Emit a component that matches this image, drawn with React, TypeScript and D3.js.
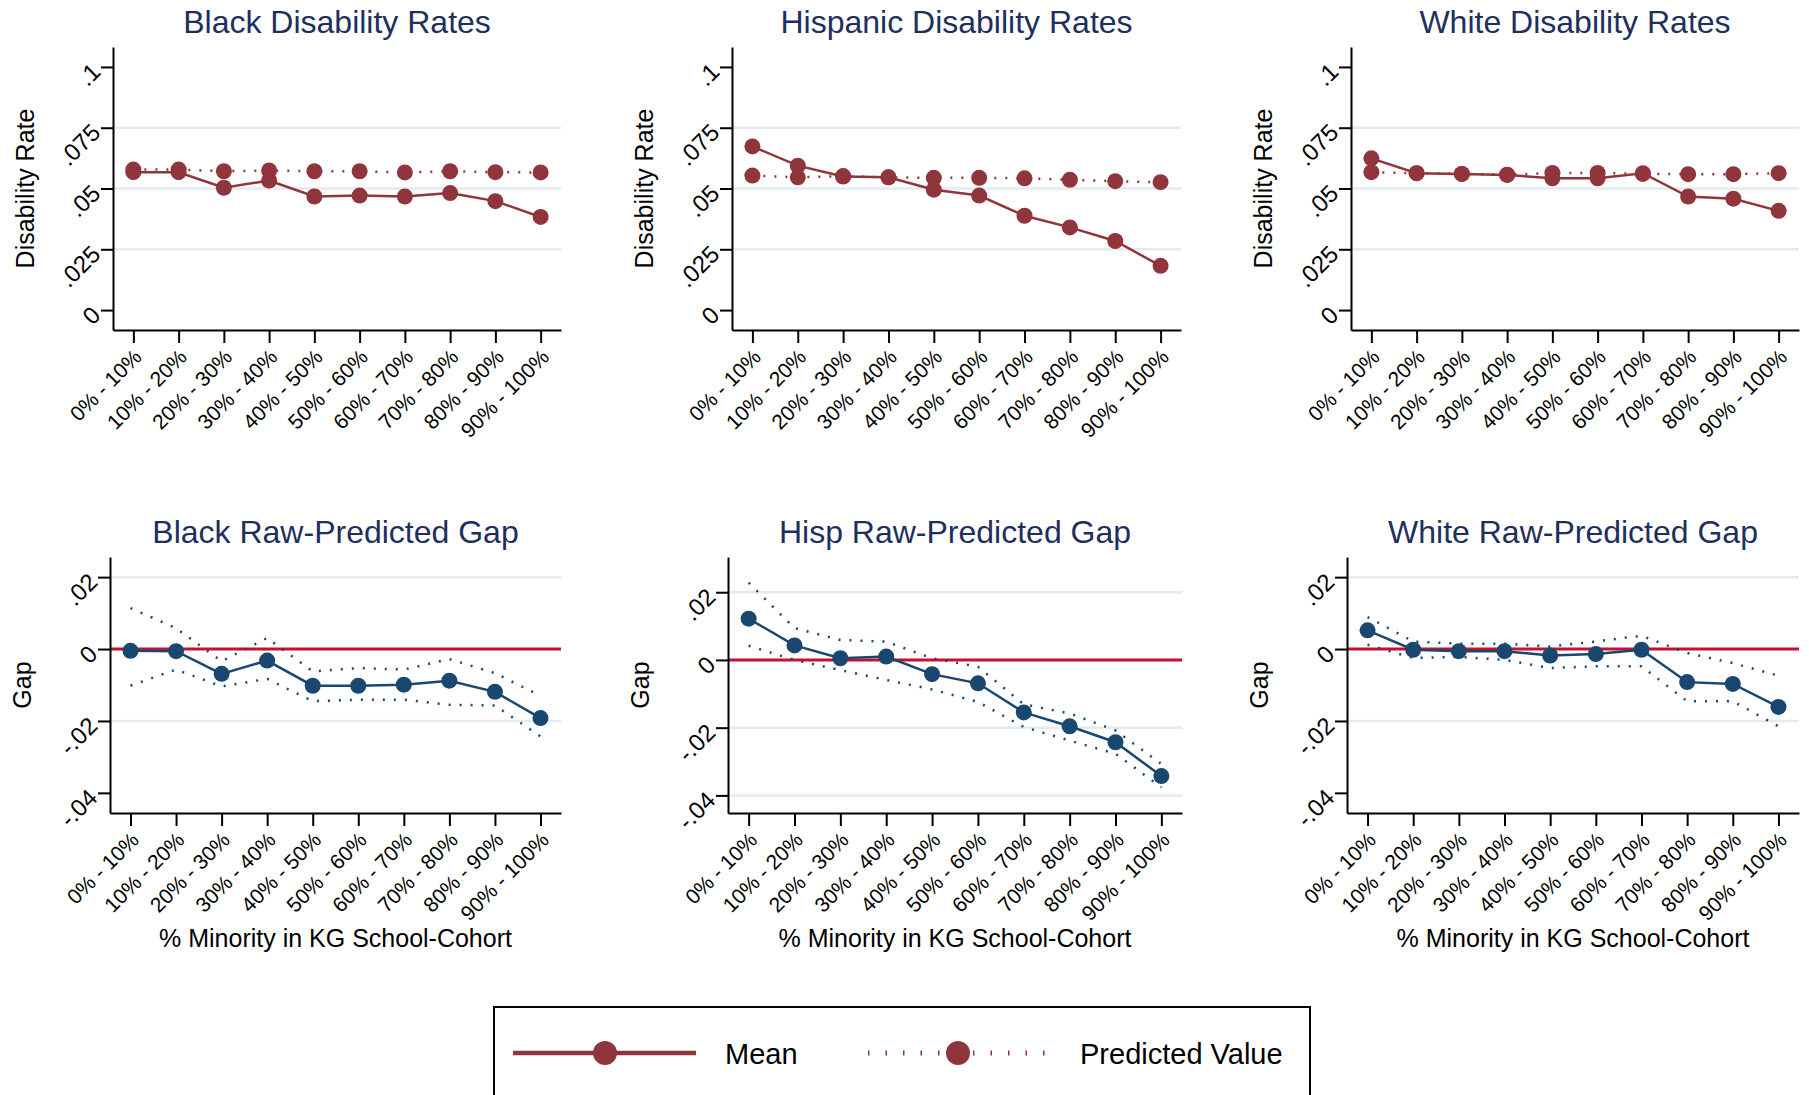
import * as React from 'react'
import * as d3 from 'd3'

const categories = ['0% - 10%', '10% - 20%', '20% - 30%', '30% - 40%', '40% - 50%',
    '50% - 60%', '60% - 70%', '70% - 80%', '80% - 90%', '90% - 100%']

// top row: disability rates
const blackMean = [0.0567, 0.0567, 0.0503, 0.0533, 0.0467, 0.0471, 0.0467, 0.0481, 0.0448, 0.0383]
const blackPredicted = [0.0578, 0.0578, 0.0571, 0.0574, 0.0571, 0.0571, 0.0566, 0.0571, 0.0567, 0.0566]
const hispMean = [0.0673, 0.0594, 0.0549, 0.0546, 0.0495, 0.0471, 0.0388, 0.0340, 0.0284, 0.0182]
const hispPredicted = [0.0553, 0.0546, 0.0551, 0.0546, 0.0544, 0.0544, 0.0542, 0.0536, 0.0530, 0.0526]
const whiteMean = [0.0624, 0.0563, 0.0560, 0.0556, 0.0542, 0.0542, 0.0563, 0.0467, 0.0458, 0.0408]
const whitePredicted = [0.0567, 0.0563, 0.0560, 0.0557, 0.0564, 0.0564, 0.0560, 0.0559, 0.0559, 0.0563]

// bottom row: raw - predicted gap with upper / lower bounds
const blackGap = [-0.0005, -0.0006, -0.0069, -0.0032, -0.0102, -0.0102, -0.0099, -0.0088, -0.0119, -0.0192]
const blackGapHi = [0.0114, 0.0058, -0.0034, 0.0031, -0.0062, -0.0053, -0.0057, -0.0028, -0.0067, -0.0130]
const blackGapLo = [-0.0102, -0.0057, -0.0104, -0.0083, -0.0145, -0.0141, -0.0141, -0.0155, -0.0157, -0.0243]
const hispGap = [0.0122, 0.0043, 0.0005, 0.0010, -0.0042, -0.0069, -0.0155, -0.0196, -0.0243, -0.0343]
const hispGapHi = [0.0228, 0.0094, 0.0059, 0.0054, 0.0005, -0.0020, -0.0131, -0.0158, -0.0208, -0.0307]
const hispGapLo = [0.0042, 0.0000, -0.0030, -0.0059, -0.0087, -0.0124, -0.0198, -0.0238, -0.0277, -0.0376]
const whiteGap = [0.0052, -0.0002, -0.0006, -0.0006, -0.0018, -0.0014, -0.0002, -0.0092, -0.0097, -0.0161]
const whiteGapHi = [0.0089, 0.0021, 0.0015, 0.0015, 0.0007, 0.0021, 0.0037, -0.0011, -0.0039, -0.0074]
const whiteGapLo = [0.0012, -0.0025, -0.0022, -0.0030, -0.0053, -0.0048, -0.0048, -0.0145, -0.0145, -0.0215]

const rateTicks = [0, 0.025, 0.05, 0.075, 0.1]
const rateTickLabels = ['0', '.025', '.05', '.075', '.1']
const gapTicks = [-0.04, -0.02, 0, 0.02]
const gapTickLabels = ['-.04', '-.02', '0', '.02']

const FONT = '"Liberation Sans", Arial, Helvetica, sans-serif'
const MAROON = '#90353b'
const NAVY = '#1a476f'
const TITLE = '#1e2f5e'
const GRID = '#e2ecf0'
const ZERO = '#c8102e'

interface Series {
    values: number[]
    color: string
    dashed: boolean
    markers: boolean
}

interface PanelSpec {
    title: string
    yTitle: string
    xTitle?: string
    left: number
    right: number
    top: number
    bottom: number
    domain: [number, number]
    ticks: number[]
    tickLabels: string[]
    grid: number[]
    zeroLine: boolean
    series: Series[]
}

type Sel = d3.Selection<SVGSVGElement, unknown, null, undefined>

function drawPanel(svg: Sel, p: PanelSpec) {
    const x = d3.scalePoint<string>()
        .domain(categories)
        .range([p.left, p.right])
        .padding(0.45)

    const y = d3.scaleLinear()
        .domain(p.domain)
        .range([p.bottom, p.top])

    const g = svg.append('g')

    // gridlines
    g.selectAll('line.grid')
        .data(p.grid)
        .enter().append('line')
        .attr('class', 'grid')
        .attr('x1', p.left)
        .attr('x2', p.right)
        .attr('y1', d => y(d))
        .attr('y2', d => y(d))
        .attr('stroke', GRID)
        .attr('stroke-width', 2.5)

    if (p.zeroLine) {
        g.append('line')
            .attr('x1', p.left)
            .attr('x2', p.right)
            .attr('y1', y(0))
            .attr('y2', y(0))
            .attr('stroke', ZERO)
            .attr('stroke-width', 3)
    }

    // y axis
    const yAxis = g.append('g')
        .attr('transform', `translate(${p.left},0)`)
        .call(d3.axisLeft(y)
            .tickValues(p.ticks)
            .tickFormat((_d, i) => p.tickLabels[i])
            .tickSize(12)
            .tickSizeOuter(0))
    yAxis.attr('font-family', FONT).attr('font-size', 24)
    yAxis.selectAll('path, line').attr('stroke', '#000').attr('stroke-width', 2)
    yAxis.selectAll('text')
        .attr('x', 0)
        .attr('y', 0)
        .attr('dy', '0.35em')
        .attr('fill', '#000')
        .attr('text-anchor', 'end')
        .attr('transform', 'translate(-17,0) rotate(-45)')

    // x axis
    const xAxis = g.append('g')
        .attr('transform', `translate(0,${p.bottom})`)
        .call(d3.axisBottom(x).tickSize(13).tickSizeOuter(0))
    xAxis.attr('font-family', FONT).attr('font-size', 21)
    xAxis.selectAll('path, line').attr('stroke', '#000').attr('stroke-width', 2)
    xAxis.selectAll('text')
        .attr('x', 0)
        .attr('y', 0)
        .attr('dy', '0.35em')
        .attr('fill', '#000')
        .attr('text-anchor', 'end')
        .attr('transform', 'translate(4,23) rotate(-45)')

    const line = d3.line<number>()
        .x((_d, i) => x(categories[i]) as number)
        .y(d => y(d))

    p.series.forEach(s => {
        g.append('path')
            .datum(s.values)
            .attr('fill', 'none')
            .attr('stroke', s.color)
            .attr('stroke-width', 2.5)
            .attr('stroke-dasharray', s.dashed ? '2 9' : null)
            .attr('d', line)
        if (s.markers) {
            g.selectAll(null)
                .data(s.values)
                .enter().append('circle')
                .attr('cx', (_d, i) => x(categories[i]) as number)
                .attr('cy', d => y(d))
                .attr('r', 8)
                .attr('fill', s.color)
        }
    })

    const cx = (p.left + p.right) / 2
    const cy = (p.top + p.bottom) / 2

    g.append('text')
        .attr('x', cx)
        .attr('y', p.top - 14)
        .attr('text-anchor', 'middle')
        .attr('font-family', FONT)
        .attr('font-size', 32)
        .attr('fill', TITLE)
        .text(p.title)

    g.append('text')
        .attr('transform', `translate(${p.left - 79},${cy}) rotate(-90)`)
        .attr('text-anchor', 'middle')
        .attr('font-family', FONT)
        .attr('font-size', 25)
        .attr('fill', '#000')
        .text(p.yTitle)

    if (p.xTitle) {
        g.append('text')
            .attr('x', cx)
            .attr('y', p.bottom + 134)
            .attr('text-anchor', 'middle')
            .attr('font-family', FONT)
            .attr('font-size', 25)
            .attr('fill', '#000')
            .text(p.xTitle)
    }
}

function drawLegend(svg: Sel) {
    const g = svg.append('g').attr('font-family', FONT).attr('font-size', 29)
    g.append('rect')
        .attr('x', 494)
        .attr('y', 1007)
        .attr('width', 816)
        .attr('height', 140)
        .attr('fill', '#fff')
        .attr('stroke', '#000')
        .attr('stroke-width', 2)

    const ly = 1053
    // Mean
    g.append('line')
        .attr('x1', 513).attr('x2', 696).attr('y1', ly).attr('y2', ly)
        .attr('stroke', MAROON).attr('stroke-width', 4.5)
    g.append('circle').attr('cx', 605).attr('cy', ly).attr('r', 12).attr('fill', MAROON)
    g.append('text').attr('x', 725).attr('y', ly + 11).text('Mean')

    // Predicted
    g.append('line')
        .attr('x1', 868).attr('x2', 1050).attr('y1', ly).attr('y2', ly)
        .attr('stroke', MAROON).attr('stroke-width', 5)
        .attr('stroke-dasharray', '1.5 16')
    g.append('circle').attr('cx', 958).attr('cy', ly).attr('r', 12).attr('fill', MAROON)
    g.append('text').attr('x', 1080).attr('y', ly + 11).text('Predicted Value')
}

const topRow = { top: 47, bottom: 330, domain: [-0.0082, 0.1082] as [number, number] }
const bottomRow = { top: 557, bottom: 813 }

export default function App() {
    const ref = React.useRef<SVGSVGElement | null>(null)

    React.useEffect(() => {
        if (!ref.current)
            return
        const svg = d3.select(ref.current)
        svg.selectAll('*').remove()

        const rate = (title: string, left: number, right: number, mean: number[], pred: number[]): PanelSpec => ({
            title,
            yTitle: 'Disability Rate',
            left,
            right,
            top: topRow.top,
            bottom: topRow.bottom,
            domain: topRow.domain,
            ticks: rateTicks,
            tickLabels: rateTickLabels,
            grid: [0.025, 0.05, 0.075],
            zeroLine: false,
            series: [
                { values: pred, color: MAROON, dashed: true, markers: true },
                { values: mean, color: MAROON, dashed: false, markers: true },
            ],
        })

        const gap = (title: string, left: number, right: number, domain: [number, number], grid: number[],
            mean: number[], hi: number[], lo: number[]): PanelSpec => ({
            title,
            yTitle: 'Gap',
            xTitle: '% Minority in KG School-Cohort',
            left,
            right,
            top: bottomRow.top,
            bottom: bottomRow.bottom,
            domain,
            ticks: gapTicks,
            tickLabels: gapTickLabels,
            grid,
            zeroLine: true,
            series: [
                { values: hi, color: NAVY, dashed: true, markers: false },
                { values: lo, color: NAVY, dashed: true, markers: false },
                { values: mean, color: NAVY, dashed: false, markers: true },
            ],
        })

        drawPanel(svg, rate('Black Disability Rates', 113, 561, blackMean, blackPredicted))
        drawPanel(svg, rate('Hispanic Disability Rates', 732, 1181, hispMean, hispPredicted))
        drawPanel(svg, rate('White Disability Rates', 1351, 1799, whiteMean, whitePredicted))

        drawPanel(svg, gap('Black Raw-Predicted Gap', 110, 561, [-0.0456, 0.0256], [0.02, -0.02],
            blackGap, blackGapHi, blackGapLo))
        drawPanel(svg, gap('Hisp Raw-Predicted Gap', 728, 1182, [-0.0452, 0.0304], [0.02, -0.02, -0.04],
            hispGap, hispGapHi, hispGapLo))
        drawPanel(svg, gap('White Raw-Predicted Gap', 1347, 1799, [-0.0456, 0.0256], [0.02, -0.02],
            whiteGap, whiteGapHi, whiteGapLo))

        drawLegend(svg)
    }, [])

    return (
        <svg
            ref={ref}
            width={1809}
            height={1095}
            style={{ position: 'absolute', left: 0, top: 0, background: '#fff', display: 'block' }} />
    )
}
